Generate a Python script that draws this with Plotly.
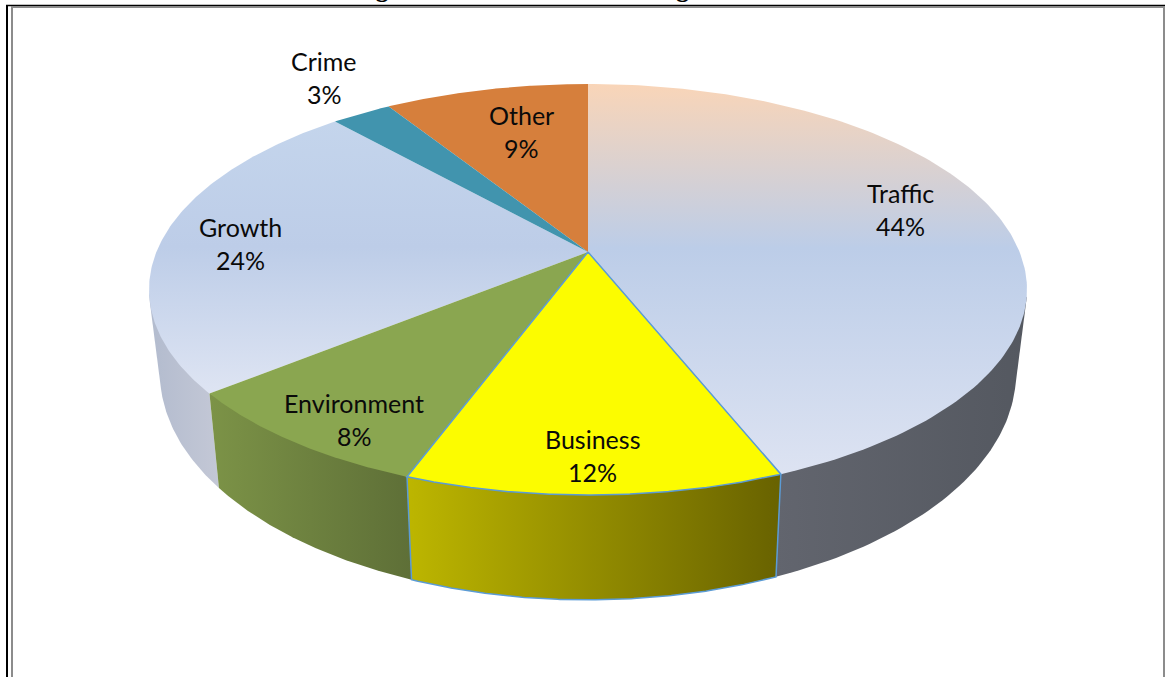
import numpy as np
import plotly.graph_objects as go

# ---- data ----
categories = ["Traffic", "Business", "Environment", "Growth", "Crime", "Other"]
shares = [43.95, 11.7, 8.49, 24.26, 2.65, 8.95]
pct_labels = ["44%", "12%", "8%", "24%", "3%", "9%"]

# ---- styles ----
top_styles = {
    "Traffic": dict(stops=["#F9D5B8", "#BCCDE8", "#E0E5F3"], mid=0.40, span=(84, 495)),
    "Business": dict(color="#FCFC00"),
    "Environment": dict(color="#8AA650"),
    "Growth": dict(stops=["#C4D5EC", "#BDCDE8", "#DFE5F3"], mid=0.46, span=(120, 397)),
    "Crime": dict(color="#4194AE"),
    "Other": dict(color="#D67F3C"),
}
wall_styles = {
    "Traffic": ("#62656E", "#545860"),
    "Business": ("#BDB600", "#686200"),
    "Environment": ("#7C9347", "#5E6F37"),
    "Growth": ("#B2BBCE", "#C4C8D6"),
}
border_color = "#5B9BD5"
label_xy = {
    "Traffic": (900, 193), "Business": (592, 439), "Environment": (354, 403),
    "Growth": (240, 227), "Crime": (324, 61), "Other": (521, 115),
}
line_gap = 33
label_font = dict(family="Lato, Carlito, sans-serif", size=25, color="#0a0a0a")

# ---- projection of the tilted disc ----
CX, TOP_Y, TOP_A, TOP_B = 588.0, 252.0, 431.6, 198.7
BOT_Y, BOT_A, BOT_B = 332.0, 420.8, 219.0
K = 0.1825


def ring(frac0, frac1, cy, a, b, n=160, front_only=False):
    th = np.linspace(frac0, frac1, n) * 2 * np.pi
    u, v = np.sin(th), -np.cos(th)
    if front_only:
        keep = v >= 0.2
        u, v = u[keep], v[keep]
    d = 1 - K * v
    return CX + a * u / d, cy + b * v / d


def hull(xs, ys):
    pts = sorted(set(zip(np.round(xs, 3).tolist(), np.round(ys, 3).tolist())))

    def half(seq):
        out = []
        for p in seq:
            while len(out) > 1 and (out[-1][0] - out[-2][0]) * (p[1] - out[-2][1]) - (out[-1][1] - out[-2][1]) * (p[0] - out[-2][0]) <= 0:
                out.pop()
            out.append(p)
        return out[:-1]

    h = half(pts) + half(pts[::-1])
    h.append(h[0])
    return [p[0] for p in h], [p[1] for p in h]


fractions = np.cumsum([0] + shares) / sum(shares)
spans = {c: (fractions[i], fractions[i + 1]) for i, c in enumerate(categories)}

fig = go.Figure()

# side walls, drawn back to front
for name in ["Traffic", "Growth", "Environment", "Business"]:
    f0, f1 = spans[name]
    tx, ty = ring(f0, f1, TOP_Y, TOP_A, TOP_B, front_only=True)
    bx, by = ring(f0, f1, BOT_Y, BOT_A, BOT_B, front_only=True)
    xs, ys = hull(np.r_[tx, bx], np.r_[ty, by])
    c0, c1 = wall_styles[name]
    all_x = np.r_[tx, bx]
    outlined = name == "Business"
    fig.add_trace(go.Scatter(
        x=xs, y=ys, mode="lines", fill="toself",
        line=dict(color=border_color if outlined else "rgba(0,0,0,0)", width=1.5 if outlined else 0),
        fillgradient=dict(type="horizontal", colorscale=[[0, c0], [1, c1]],
                          start=float(all_x.min()), stop=float(all_x.max())),
        hoverinfo="skip", showlegend=False))

# top faces
for name in ["Traffic", "Growth", "Other", "Crime", "Environment", "Business"]:
    f0, f1 = spans[name]
    ax, ay = ring(f0, f1, TOP_Y, TOP_A, TOP_B)
    xs = np.r_[CX, ax, CX]
    ys = np.r_[TOP_Y, ay, TOP_Y]
    st = top_styles[name]
    outlined = name == "Business"
    kw = dict(x=xs, y=ys, mode="lines", fill="toself", hoverinfo="skip", showlegend=False,
              line=dict(color=border_color if outlined else "rgba(0,0,0,0)", width=1.5 if outlined else 0))
    if "stops" in st:
        s = st["stops"]
        kw["fillgradient"] = dict(type="vertical",
                                  colorscale=[[0, s[0]], [st["mid"], s[1]], [1, s[2]]],
                                  start=st["span"][0], stop=st["span"][1])
    else:
        kw["fillcolor"] = st["color"]
    fig.add_trace(go.Scatter(**kw))

# labels
annotations = []
for name, pct in zip(categories, pct_labels):
    x, y = label_xy[name]
    annotations.append(dict(x=x, y=y, text=name, showarrow=False, font=label_font,
                            xanchor="center", yanchor="middle"))
    annotations.append(dict(x=x, y=y + line_gap, text=pct, showarrow=False, font=label_font,
                            xanchor="center", yanchor="middle"))

# caption, almost entirely cut off by the top of the page
annotations.append(dict(x=592, y=0, text="<b>Figure 6. Mutual Issues Facing Macrotowns</b>", showarrow=False,
                        font=dict(family="Liberation Serif", size=25.5, color="#000000"),
                        xanchor="center", yanchor="bottom", yshift=-5))

# page frame
frame = [
    dict(x0=7, x1=7, y0=5, y1=677, color="#000000", width=2),
    dict(x0=6, x1=1165, y0=5.5, y1=5.5, color="#000000", width=1.5),
    dict(x0=11, x1=1165, y0=7, y1=7, color="#8C8C8C", width=2),
    dict(x0=12, x1=12, y0=6, y1=677, color="#8C8C8C", width=2),
    dict(x0=1164, x1=1164, y0=6, y1=677, color="#8C8C8C", width=2),
]
shapes = [dict(type="line", x0=f["x0"], x1=f["x1"], y0=f["y0"], y1=f["y1"], layer="above",
               line=dict(color=f["color"], width=f["width"])) for f in frame]

fig.update_layout(
    width=1165, height=677, autosize=False,
    margin=dict(l=0, r=0, t=0, b=0),
    paper_bgcolor="white", plot_bgcolor="white",
    xaxis=dict(range=[0, 1165], visible=False, fixedrange=True),
    yaxis=dict(range=[677, 0], visible=False, fixedrange=True),
    annotations=annotations, shapes=shapes, showlegend=False,
)
fig.write_html("out.html", config={"displayModeBar": False},
               default_width="1165px", default_height="677px",
               post_script="document.body.style.margin='0';document.documentElement.style.overflow='hidden';")
